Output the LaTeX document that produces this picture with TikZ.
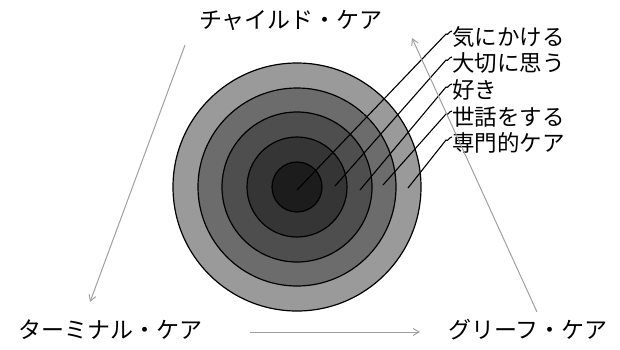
\documentclass[tikz,border=0pt]{standalone}
\usepackage{fontspec}
\setmainfont{Noto Sans CJK JP}
\usetikzlibrary{arrows.meta,calc}
\definecolor{ringA}{HTML}{9A9A9A}
\definecolor{ringB}{HTML}{6C6C6C}
\definecolor{ringC}{HTML}{4E4E4E}
\definecolor{ringD}{HTML}{353535}
\definecolor{ringE}{HTML}{1C1C1C}
\definecolor{arrowgray}{HTML}{A0A0A0}
\tikzset{
  ring/.style={circle, draw=black, line width=1.2pt, inner sep=0pt},
  mainlabel/.style={font=\fontsize{23}{26}\selectfont, inner sep=0pt},
  ringlabel/.style={font=\fontsize{22.5}{25}\selectfont, inner sep=0pt, anchor=west},
  leader/.style={draw=black, line width=1.1pt},
  cyclearrow/.style={draw=arrowgray, line width=1pt, -{Straight Barb[length=6pt,width=7pt]}}
}
\begin{document}
\begin{tikzpicture}[x=1pt,y=-1pt]
\useasboundingbox (0,0) rectangle (620,349);
% rings
\node[ring, fill=ringA, minimum size=248] (r1) at (297,187) {};
\node[ring, fill=ringB, minimum size=198] (r2) at (297,187) {};
\node[ring, fill=ringC, minimum size=150] (r3) at (297,187) {};
\node[ring, fill=ringD, minimum size=100] (r4) at (297,187) {};
\node[ring, fill=ringE, minimum size=50] (r5) at (297,187) {};
% ring labels
\node[ringlabel] (l1) at (452,37) {気にかける};
\node[ringlabel] (l2) at (452,63) {大切に思う};
\node[ringlabel] (l3) at (452,90) {好き};
\node[ringlabel] (l4) at (452,117) {世話をする};
\node[ringlabel] (l5) at (452,143) {専門的ケア};
% leader start points
\coordinate (s1) at (297,190);
\coordinate (s2) at (335,186);
\coordinate (s3) at (360,190);
\coordinate (s4) at (383,185);
\coordinate (s5) at (408,188);
\foreach \i in {1,...,5}{
  \draw[leader] (s\i) -- ($(l\i.west)+(-6,-3)$) to[out=-50,in=180] ($(l\i.west)+(0,-6)$);
}
% main labels
\node[mainlabel] (child) at (291,20) {チャイルド・ケア};
\node[mainlabel] (term) at (110,330) {ターミナル・ケア};
\node[mainlabel] (grief) at (528,330) {グリーフ・ケア};
% cycle arrows
\coordinate (a1s) at (185,45);
\coordinate (a1e) at (90,302);
\coordinate (a2s) at (250,332);
\coordinate (a2e) at (420,332);
\coordinate (a3s) at (537,312);
\coordinate (a3e) at (412,38);
\draw[cyclearrow] (a1s) -- (a1e);
\draw[cyclearrow] (a2s) -- (a2e);
\draw[cyclearrow] (a3s) -- (a3e);
\end{tikzpicture}
\end{document}
